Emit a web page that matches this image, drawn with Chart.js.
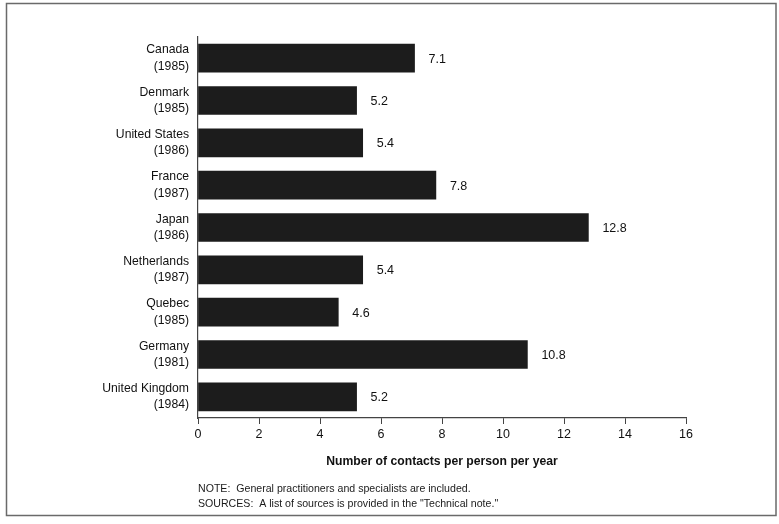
<!DOCTYPE html>
<html>
<head>
<meta charset="utf-8">
<script src="https://cdn.jsdelivr.net/npm/chart.js@4/dist/chart.umd.min.js"></script>
<style>
  html, body { margin: 0; padding: 0; background: #ffffff; }
  #wrap { width: 779px; height: 524px; position: relative; }
</style>
</head>
<body>
<div id="wrap"><canvas id="c" width="779" height="524"></canvas></div>
<script>
const countries = ['Canada', 'Denmark', 'United States', 'France', 'Japan', 'Netherlands', 'Quebec', 'Germany', 'United Kingdom'];
const years = ['(1985)', '(1985)', '(1986)', '(1987)', '(1986)', '(1987)', '(1985)', '(1981)', '(1984)'];
const contacts = [7.1, 5.2, 5.4, 7.8, 12.8, 5.4, 4.6, 10.8, 5.2];
const xTicks = [0, 2, 4, 6, 8, 10, 12, 14, 16];
const axisTitle = 'Number of contacts per person per year';
const notes = [
  'NOTE:  General practitioners and specialists are included.',
  'SOURCES:  A list of sources is provided in the "Technical note."'
];

const labels = countries.map((c, i) => [c, years[i]]);
const FONT = "'Liberation Sans', Arial, Helvetica, sans-serif";

const framePlugin = {
  id: 'frame',
  beforeDraw(chart) {
    const ctx = chart.ctx;
    ctx.save();
    ctx.fillStyle = '#ffffff';
    ctx.fillRect(0, 0, chart.width, chart.height);
    ctx.strokeStyle = '#6a6a6a';
    ctx.lineWidth = 1.5;
    ctx.strokeRect(6.5, 3.5, 769.5, 512);
    ctx.restore();
  }
};

const valuePlugin = {
  id: 'values',
  afterDatasetsDraw(chart) {
    const ctx = chart.ctx;
    const meta = chart.getDatasetMeta(0);
    ctx.save();
    ctx.font = '12.5px ' + FONT;
    ctx.fillStyle = '#111';
    ctx.textBaseline = 'middle';
    ctx.textAlign = 'left';
    meta.data.forEach((bar, i) => {
      ctx.fillText(String(contacts[i]), bar.x + 14, bar.y + 1);
    });
    ctx.restore();
  }
};

const notesPlugin = {
  id: 'notes',
  afterDraw(chart) {
    const ctx = chart.ctx;
    const x0 = chart.chartArea.left;
    ctx.save();
    ctx.font = '10.6px ' + FONT;
    ctx.fillStyle = '#1a1a1a';
    ctx.textBaseline = 'middle';
    ctx.textAlign = 'left';
    notes.forEach((t, i) => ctx.fillText(t, x0, 489 + i * 15.5));
    ctx.restore();
  }
};

new Chart(document.getElementById('c'), {
  type: 'bar',
  data: {
    labels: labels,
    datasets: [{
      data: contacts,
      backgroundColor: '#1c1c1c',
      borderWidth: 0,
      barThickness: 28
    }]
  },
  options: {
    indexAxis: 'y',
    responsive: false,
    animation: false,
    layout: { padding: { top: 37, right: 93, left: 0, bottom: 0 } },
    plugins: { legend: { display: false }, tooltip: { enabled: false } },
    scales: {
      y: {
        grid: { display: false, drawTicks: false },
        border: { display: true, color: '#444', width: 1.2 },
        ticks: { color: '#111', font: { family: FONT, size: 12.2, lineHeight: 1.32 }, padding: 9 },
        afterFit(scale) { scale.width = 198; }
      },
      x: {
        min: 0,
        max: 16,
        afterBuildTicks(scale) { scale.ticks = xTicks.map(v => ({ value: v })); },
        grid: { drawOnChartArea: false, drawTicks: true, tickLength: 6, color: '#444' },
        border: { display: true, color: '#444', width: 1.2 },
        ticks: { color: '#111', font: { family: FONT, size: 12.5 }, padding: 3, maxRotation: 0 },
        title: {
          display: true,
          text: axisTitle,
          color: '#111',
          font: { family: FONT, size: 12.2, weight: 'bold' },
          padding: { top: 0, bottom: 55 }
        },
        afterFit(scale) { scale.height = 106; }
      }
    }
  },
  plugins: [framePlugin, valuePlugin, notesPlugin]
});
</script>
</body>
</html>
